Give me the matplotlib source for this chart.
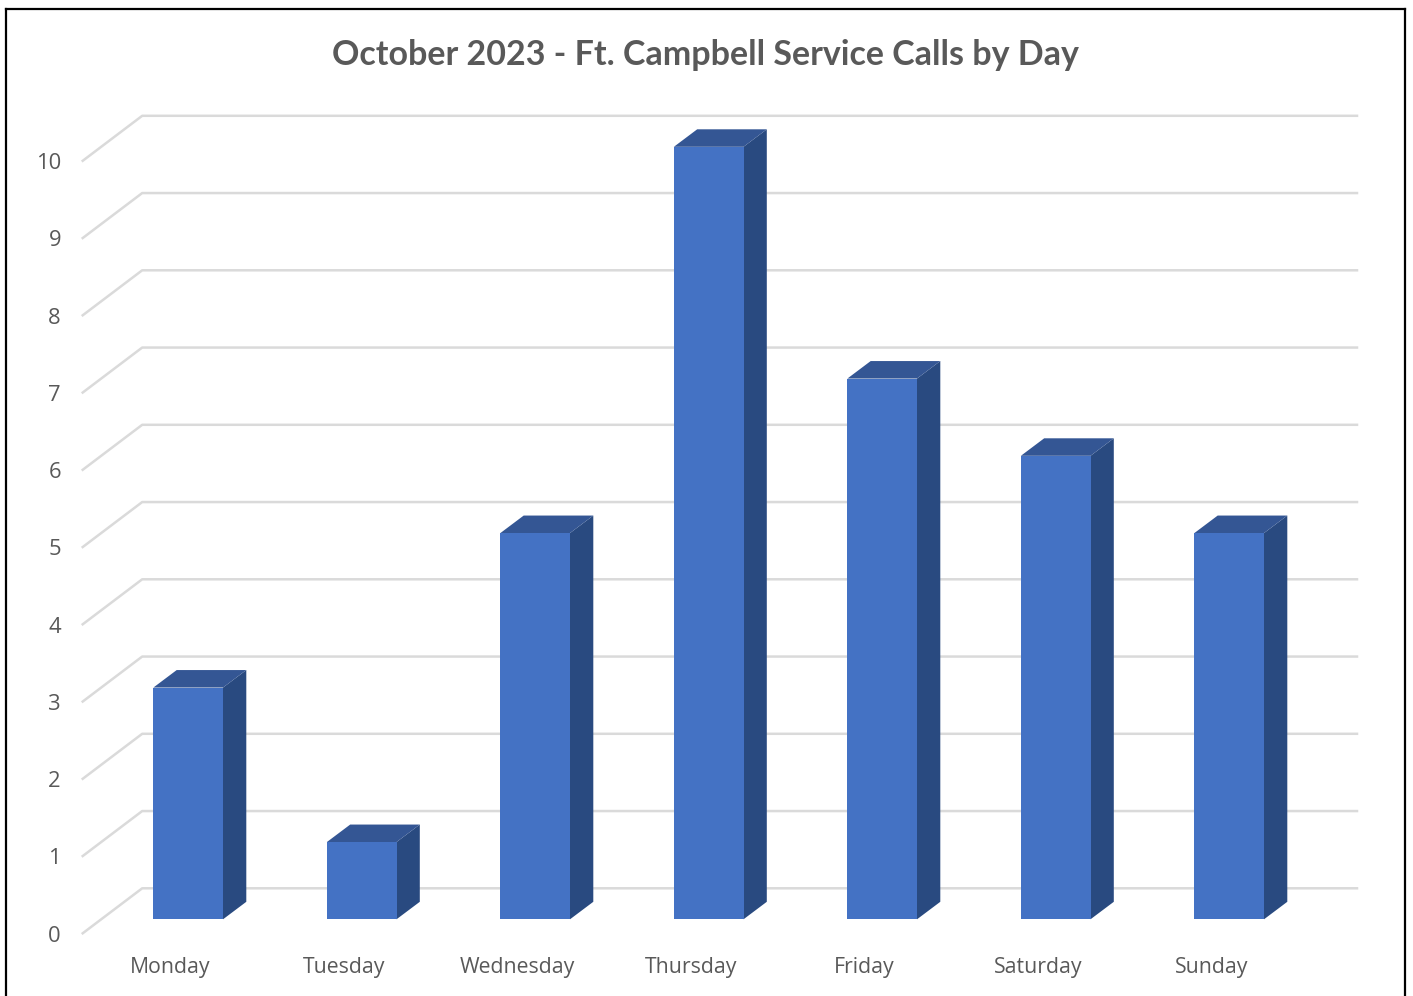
import matplotlib
matplotlib.use('Agg')
import matplotlib.pyplot as plt
from matplotlib.lines import Line2D

# ------------------------------------------------------
# DATA
# ------------------------------------------------------
days = ['Monday', 'Tuesday', 'Wednesday', 'Thursday', 'Friday', 'Saturday', 'Sunday']
calls = [3, 1, 5, 10, 7, 6, 5]
ticks = [0, 1, 2, 3, 4, 5, 6, 7, 8, 9, 10]
title = 'October 2023 - Ft. Campbell Service Calls by Day'

# ------------------------------------------------------
# LAYOUT (pixels of the 1413x996 picture)
# ------------------------------------------------------
W, H = 1413, 996
x0_px, step_px = 188.2, 173.5      # centre of first bar, spacing of bars
y0_px, unit_px = 919.3, 77.25      # baseline of front plane, height of one call

bar_w = 69.6 / step_px
bar_dx = 23.3 / step_px            # depth of a bar
bar_dy = 17.5 / unit_px
wall_dx = 59.5 / step_px           # depth of the side wall
wall_dy = 45.0 / unit_px
wall_left = (82.7 - x0_px) / step_px
wall_right = (1357.0 - x0_px) / step_px
wall_base = (919.3 - 933.3) / unit_px
tick_right = (61.0 - x0_px) / step_px

front = '#4472C4'
side = '#294A80'
top = '#345694'
grid_col = '#DADADA'
text_col = '#595959'

fig = plt.figure(figsize=(W / 100, H / 100), dpi=100, facecolor='white')
ax = fig.add_axes([0, 0, 1, 1])
ax.set_xlim((0 - x0_px) / step_px, (W - x0_px) / step_px)
ax.set_ylim((y0_px - H) / unit_px, y0_px / unit_px)
ax.axis('off')

# Side wall and back wall grid lines
for t in ticks:
    y = t + wall_base
    ax.plot([wall_left, wall_left + wall_dx, wall_right],
            [y, y + wall_dy, y + wall_dy],
            color=grid_col, lw=1.8, solid_joinstyle='round', zorder=1)
    ax.text(tick_right, y - 0.035, str(t), ha='right', va='center',
            fontsize=15.8, family='Open Sans', color=text_col)

# Bars
for i, v in enumerate(calls):
    l = i - bar_w / 2
    r = i + bar_w / 2
    ax.fill([r, r + bar_dx, r + bar_dx, r], [0, bar_dy, v + bar_dy, v],
            color=side, lw=0, zorder=2)
    ax.fill([l, l + bar_dx, r + bar_dx, r], [v, v + bar_dy, v + bar_dy, v],
            color=top, lw=0, zorder=2)
ax.bar(range(len(days)), calls, width=bar_w, color=front, zorder=3)

# Category labels
for i, d in enumerate(days):
    ax.text(i - 0.103, -0.62, d, ha='center', va='center',
            fontsize=15.3, family='Open Sans', color=text_col)

ax.text(705 / W, 1 - 55 / H, title, transform=ax.transAxes, ha='center', va='center',
        fontsize=24.5, family='Lato', fontweight='bold', color=text_col)

# Picture frame, open at the bottom
for xs, ys in [([6, 6], [H, 9]), ([6, 1404.5], [9, 9]), ([1404.5, 1404.5], [9, H])]:
    fig.add_artist(Line2D([x / W for x in xs], [1 - y / H for y in ys],
                          color='black', lw=1.6, solid_capstyle='projecting'))

fig.savefig('out.png', dpi=100)
